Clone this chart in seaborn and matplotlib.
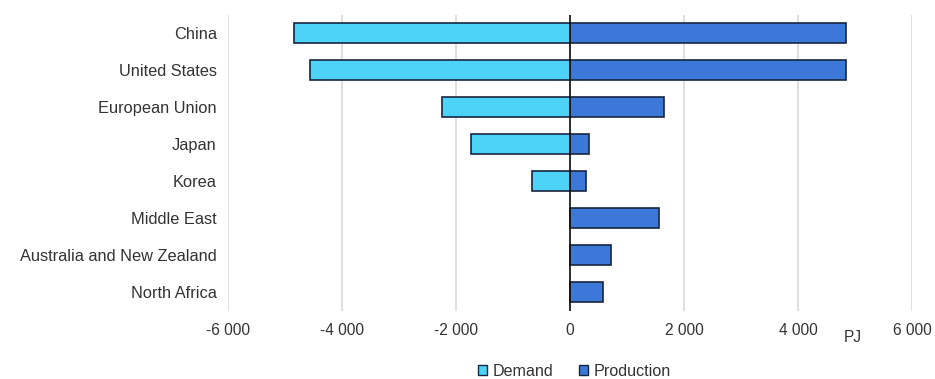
import matplotlib
matplotlib.use("Agg")
import matplotlib.pyplot as plt
from matplotlib.patches import Patch
import seaborn as sns
import pandas as pd

# Hydrogen demand vs production by region (PJ)
regions = ["China", "United States", "European Union", "Japan", "Korea",
           "Middle East", "Australia and New Zealand", "North Africa"]
demand = [-4850, -4560, -2250, -1740, -670, 0, 0, 0]
production = [4850, 4850, 1650, 340, 275, 1560, 720, 575]
x_ticks = [-6000, -4000, -2000, 0, 2000, 4000, 6000]
x_tick_labels = ["-6 000", "-4 000", "-2 000", "0", "2 000", "4 000", "6 000"]

df = pd.DataFrame({
    "region": regions * 2,
    "value": demand + production,
    "series": ["Demand"] * len(regions) + ["Production"] * len(regions),
})

sns.set_theme(style="white")
plt.rcParams["font.family"] = ["Liberation Sans", "DejaVu Sans"]

colors = {"Demand": "#4ed3f8", "Production": "#3b78d8"}
edge = "#17263f"
text_color = "#333333"

fig = plt.figure(figsize=(9.35, 3.79), dpi=100)
ax = fig.add_axes([0.2439, 0.1807, 0.7315, 0.781])

sns.barplot(data=df, y="region", x="value", hue="series", order=regions,
            hue_order=["Demand", "Production"], palette=colors, dodge=False,
            saturation=1, width=0.55, edgecolor=edge, linewidth=1.2,
            legend=False, ax=ax, orient="h", zorder=3)

ax.set_xlim(-6000, 6000)
ax.set_xticks(x_ticks)
ax.set_xticklabels(x_tick_labels)
ax.set_xlabel("")
ax.set_ylabel("")
for s in ax.spines.values():
    s.set_visible(False)
ax.grid(axis="x", color="#d9d9d9", linewidth=1.2, zorder=0)
ax.grid(axis="y", visible=False)
ax.axvline(0, color="#111111", linewidth=1.2, zorder=4)
ax.tick_params(axis="x", length=0, pad=9, labelsize=11.2, colors=text_color)
ax.tick_params(axis="y", length=0, pad=8, labelsize=11.8, colors=text_color)

# unit label placed between the last two ticks, just below the axis
ax.text(4970, -0.09, "PJ", transform=ax.get_xaxis_transform(),
        ha="center", va="center", fontsize=11.2, color=text_color)

handles = [Patch(facecolor=colors[k], edgecolor=edge, linewidth=1.0, label=k)
           for k in ["Demand", "Production"]]
fig.legend(handles=handles, loc="center", bbox_to_anchor=(0.614, 0.02), ncol=2,
           frameon=False, fontsize=11.6, handlelength=0.6, handleheight=0.6,
           handletextpad=0.3, columnspacing=1.6, labelcolor=text_color)

fig.savefig("out.png", dpi=100)
